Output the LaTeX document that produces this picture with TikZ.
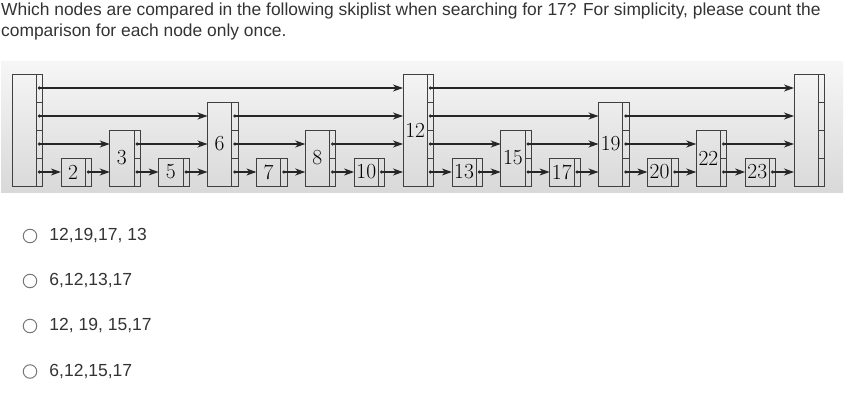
\documentclass[tikz,border=0pt]{standalone}
\usepackage{fontspec}
\newfontfamily\qfont{Liberation Sans}
\usetikzlibrary{positioning, arrows.meta}
\definecolor{qtext}{HTML}{333333}
\definecolor{radiogray}{HTML}{777777}

\tikzset{
	keybox/.style={rectangle, draw=black!75, line width=0.8pt, inner sep=0pt, outer sep=0pt,
		minimum width=24.3pt, anchor=south west, font=\fontsize{21.5}{24}\selectfont},
	ptrcell/.style={rectangle, draw=black!75, line width=0.8pt, inner sep=0pt, outer sep=0pt,
		minimum width=6.3pt, minimum height=28pt},
	link/.style={line width=1.1pt, black!85, shorten <=-1.5pt,
		{Circle[length=3pt]}-{Stealth[length=10pt, width=7pt, inset=3pt]}},
	question/.style={inner sep=0pt, anchor=base west, text=qtext, font=\qfont\fontsize{17.4}{20}\selectfont},
	radio/.style={circle, draw=radiogray, line width=1pt, minimum size=13.5pt, inner sep=0pt},
	answer/.style={inner sep=0pt, text=qtext, font=\qfont\fontsize{17.5}{20}\selectfont}
}

\begin{document}
\begin{tikzpicture}[x=1pt, y=1pt]
		
		\useasboundingbox (0,0) rectangle (847,-420);
		
		%Question
		\node[question] (q1) at (1,-16) {Which nodes are compared in the following skiplist when searching for 17? For simplicity, please count the};
		\node[question] (q2) at (1,-37) {comparison for each node only once.};
		
		%Gray band behind the skiplist
		\shade[top color=gray!7, bottom color=gray!30] (1,-62) rectangle (843,-192);
		
		%Header
		\node[keybox, minimum height=112pt] (head) at (12,-186) {};
		\node[ptrcell, anchor=south west] (head-1) at (head.south east) {};
		\node[ptrcell, above=0pt of head-1] (head-2) {};
		\node[ptrcell, above=0pt of head-2] (head-3) {};
		\node[ptrcell, above=0pt of head-3] (head-4) {};
		
		%Keys
		\node[keybox, minimum height=28pt] (k2) at (60.9,-186) {2};
		\node[ptrcell, anchor=south west] (p2-1) at (k2.south east) {};
		
		\node[keybox, minimum height=56pt] (k3) at (109.75,-186) {3};
		\node[ptrcell, anchor=south west] (p3-1) at (k3.south east) {};
		\node[ptrcell, above=0pt of p3-1] (p3-2) {};
		
		\node[keybox, minimum height=28pt] (k5) at (158.6,-186) {5};
		\node[ptrcell, anchor=south west] (p5-1) at (k5.south east) {};
		
		\node[keybox, minimum height=84pt] (k6) at (207.5,-186) {6};
		\node[ptrcell, anchor=south west] (p6-1) at (k6.south east) {};
		\node[ptrcell, above=0pt of p6-1] (p6-2) {};
		\node[ptrcell, above=0pt of p6-2] (p6-3) {};
		
		\node[keybox, minimum height=28pt] (k7) at (256.4,-186) {7};
		\node[ptrcell, anchor=south west] (p7-1) at (k7.south east) {};
		
		\node[keybox, minimum height=56pt] (k8) at (305.25,-186) {8};
		\node[ptrcell, anchor=south west] (p8-1) at (k8.south east) {};
		\node[ptrcell, above=0pt of p8-1] (p8-2) {};
		
		\node[keybox, minimum height=28pt] (k10) at (354.1,-186) {10};
		\node[ptrcell, anchor=south west] (p10-1) at (k10.south east) {};
		
		\node[keybox, minimum height=112pt] (k12) at (403,-186) {12};
		\node[ptrcell, anchor=south west] (p12-1) at (k12.south east) {};
		\node[ptrcell, above=0pt of p12-1] (p12-2) {};
		\node[ptrcell, above=0pt of p12-2] (p12-3) {};
		\node[ptrcell, above=0pt of p12-3] (p12-4) {};
		
		\node[keybox, minimum height=28pt] (k13) at (451.9,-186) {13};
		\node[ptrcell, anchor=south west] (p13-1) at (k13.south east) {};
		
		\node[keybox, minimum height=56pt] (k15) at (500.75,-186) {15};
		\node[ptrcell, anchor=south west] (p15-1) at (k15.south east) {};
		\node[ptrcell, above=0pt of p15-1] (p15-2) {};
		
		\node[keybox, minimum height=28pt] (k17) at (549.6,-186) {17};
		\node[ptrcell, anchor=south west] (p17-1) at (k17.south east) {};
		
		\node[keybox, minimum height=84pt] (k19) at (598.5,-186) {19};
		\node[ptrcell, anchor=south west] (p19-1) at (k19.south east) {};
		\node[ptrcell, above=0pt of p19-1] (p19-2) {};
		\node[ptrcell, above=0pt of p19-2] (p19-3) {};
		
		\node[keybox, minimum height=28pt] (k20) at (647.4,-186) {20};
		\node[ptrcell, anchor=south west] (p20-1) at (k20.south east) {};
		
		\node[keybox, minimum height=56pt] (k22) at (696.25,-186) {22};
		\node[ptrcell, anchor=south west] (p22-1) at (k22.south east) {};
		\node[ptrcell, above=0pt of p22-1] (p22-2) {};
		
		\node[keybox, minimum height=28pt] (k23) at (745.1,-186) {23};
		\node[ptrcell, anchor=south west] (p23-1) at (k23.south east) {};
		
		%Tail
		\node[keybox, minimum height=112pt] (tail) at (794,-186) {};
		\node[ptrcell, anchor=south west] (tail-1) at (tail.south east) {};
		\node[ptrcell, above=0pt of tail-1] (tail-2) {};
		\node[ptrcell, above=0pt of tail-2] (tail-3) {};
		\node[ptrcell, above=0pt of tail-3] (tail-4) {};
		
		%Level 1 links
		\draw[link] (head-1.center) -- (k2.west |- head-1.center);
		\draw[link] (p2-1.center) -- (k3.west |- p2-1.center);
		\draw[link] (p3-1.center) -- (k5.west |- p3-1.center);
		\draw[link] (p5-1.center) -- (k6.west |- p5-1.center);
		\draw[link] (p6-1.center) -- (k7.west |- p6-1.center);
		\draw[link] (p7-1.center) -- (k8.west |- p7-1.center);
		\draw[link] (p8-1.center) -- (k10.west |- p8-1.center);
		\draw[link] (p10-1.center) -- (k12.west |- p10-1.center);
		\draw[link] (p12-1.center) -- (k13.west |- p12-1.center);
		\draw[link] (p13-1.center) -- (k15.west |- p13-1.center);
		\draw[link] (p15-1.center) -- (k17.west |- p15-1.center);
		\draw[link] (p17-1.center) -- (k19.west |- p17-1.center);
		\draw[link] (p19-1.center) -- (k20.west |- p19-1.center);
		\draw[link] (p20-1.center) -- (k22.west |- p20-1.center);
		\draw[link] (p22-1.center) -- (k23.west |- p22-1.center);
		\draw[link] (p23-1.center) -- (tail.west |- p23-1.center);
		
		%Level 2 links
		\draw[link] (head-2.center) -- (k3.west |- head-2.center);
		\draw[link] (p3-2.center) -- (k6.west |- p3-2.center);
		\draw[link] (p6-2.center) -- (k8.west |- p6-2.center);
		\draw[link] (p8-2.center) -- (k12.west |- p8-2.center);
		\draw[link] (p12-2.center) -- (k15.west |- p12-2.center);
		\draw[link] (p15-2.center) -- (k19.west |- p15-2.center);
		\draw[link] (p19-2.center) -- (k22.west |- p19-2.center);
		\draw[link] (p22-2.center) -- (tail.west |- p22-2.center);
		
		%Level 3 links
		\draw[link] (head-3.center) -- (k6.west |- head-3.center);
		\draw[link] (p6-3.center) -- (k12.west |- p6-3.center);
		\draw[link] (p12-3.center) -- (k19.west |- p12-3.center);
		\draw[link] (p19-3.center) -- (tail.west |- p19-3.center);
		
		%Level 4 links
		\draw[link] (head-4.center) -- (k12.west |- head-4.center);
		\draw[link] (p12-4.center) -- (tail.west |- p12-4.center);
		
		%Answer options
		\node[radio] (opt1) at (30,-236) {};
		\node[answer, right=12pt of opt1] (ans1) {12,19,17, 13};
		\node[radio] (opt2) at (30,-281) {};
		\node[answer, right=12pt of opt2] (ans2) {6,12,13,17};
		\node[radio] (opt3) at (30,-326) {};
		\node[answer, right=12pt of opt3] (ans3) {12, 19, 15,17};
		\node[radio] (opt4) at (30,-371.5) {};
		\node[answer, right=12pt of opt4] (ans4) {6,12,15,17};
		
\end{tikzpicture}
\end{document}
